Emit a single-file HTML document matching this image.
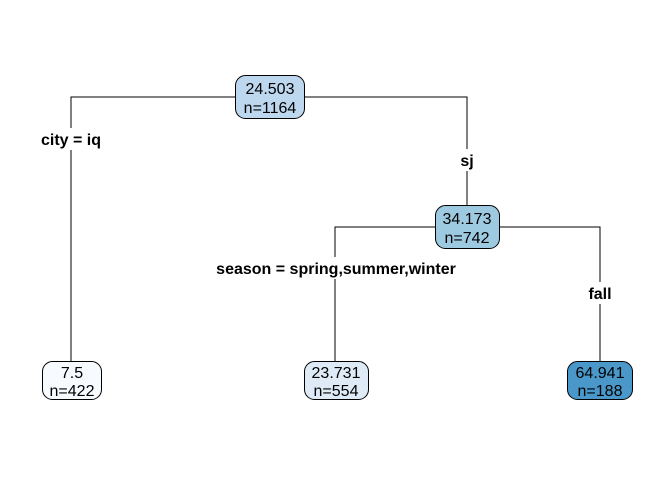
<!DOCTYPE html>
<html><head><style>body{margin:0;background:#fff}</style></head><body>
<svg width="672" height="480" xmlns="http://www.w3.org/2000/svg" font-family="Liberation Sans, Arial, sans-serif">
<g stroke="#000" stroke-width="1" fill="none">
<polyline points="71,363 71,97 467,97 467,205"/>
<polyline points="335,363 335,227 600,227 600,363"/>
</g>
<g font-size="16" font-weight="bold" text-anchor="middle">
<rect x="30" y="128" width="82" height="22" fill="#fff"/>
<text x="71" y="145">city = iq</text>
<rect x="455" y="149" width="24" height="22" fill="#fff"/>
<text x="467" y="166">sj</text>
<rect x="212" y="257" width="248" height="22" fill="#fff"/>
<text x="336" y="274">season = spring,summer,winter</text>
<rect x="582" y="282" width="36" height="22" fill="#fff"/>
<text x="600" y="299">fall</text>
</g>
<g stroke="#000" stroke-width="1">
<rect x="235.5" y="75.5" width="69" height="43" rx="10" fill="#BDD7EE"/>
<rect x="435.5" y="205.5" width="64" height="43" rx="10" fill="#9ECAE1"/>
<rect x="42.5" y="361.5" width="59" height="38" rx="10" fill="#F7FBFF"/>
<rect x="304.5" y="361.5" width="64" height="38" rx="10" fill="#DEEBF7"/>
<rect x="567.5" y="361.5" width="65" height="38" rx="10" fill="#4A98C9"/>
</g>
<g font-size="16" text-anchor="middle" fill="#000">
<text x="270" y="94">24.503</text><text x="270" y="113">n=1164</text>
<text x="467" y="224">34.173</text><text x="467" y="243">n=742</text>
<text x="72" y="378">7.5</text><text x="72" y="396">n=422</text>
<text x="336" y="378">23.731</text><text x="336" y="396">n=554</text>
<text x="600" y="378">64.941</text><text x="600" y="396">n=188</text>
</g>
</svg>
</body></html>
